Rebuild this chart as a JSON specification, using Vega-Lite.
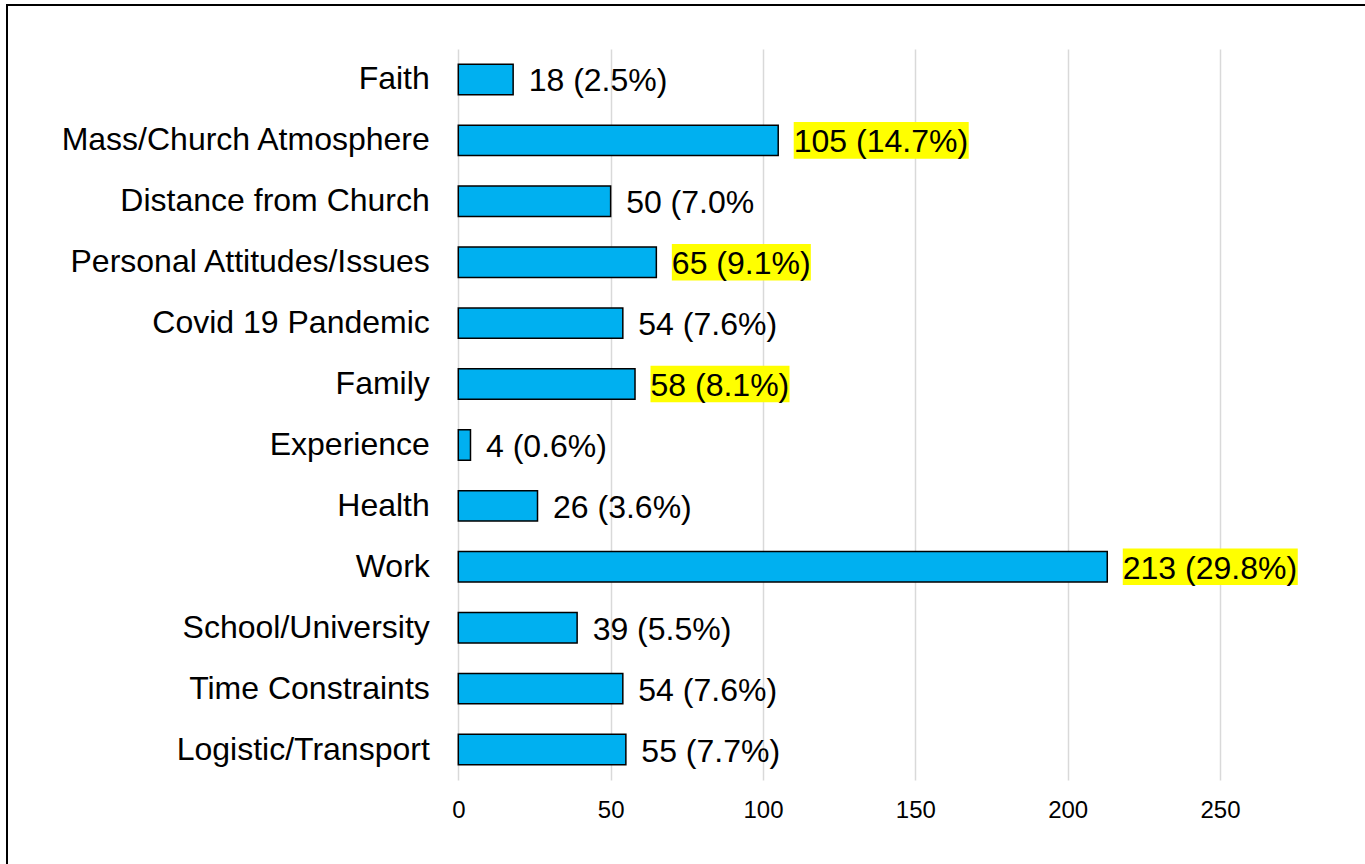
{
  "$schema": "https://vega.github.io/schema/vega-lite/v6.json",
  "width": 1358,
  "height": 859,
  "autosize": {"type": "none"},
  "padding": {"left": 7, "top": 5, "right": 0, "bottom": 0},
  "background": "white",
  "config": {
    "font": "Liberation Sans",
    "view": {"stroke": "#000000", "strokeWidth": 2, "strokeDash": [1358, 2217, 859]}
  },
  "data": {
    "values": [
      {"category": "Faith", "count": 18, "label": "18 (2.5%)", "highlight": false},
      {"category": "Mass/Church Atmosphere", "count": 105, "label": "105 (14.7%)", "highlight": true},
      {"category": "Distance from Church", "count": 50, "label": "50 (7.0%", "highlight": false},
      {"category": "Personal Attitudes/Issues", "count": 65, "label": "65 (9.1%)", "highlight": true},
      {"category": "Covid 19 Pandemic", "count": 54, "label": "54 (7.6%)", "highlight": false},
      {"category": "Family", "count": 58, "label": "58 (8.1%)", "highlight": true},
      {"category": "Experience", "count": 4, "label": "4 (0.6%)", "highlight": false},
      {"category": "Health", "count": 26, "label": "26 (3.6%)", "highlight": false},
      {"category": "Work", "count": 213, "label": "213 (29.8%)", "highlight": true},
      {"category": "School/University", "count": 39, "label": "39 (5.5%)", "highlight": false},
      {"category": "Time Constraints", "count": 54, "label": "54 (7.6%)", "highlight": false},
      {"category": "Logistic/Transport", "count": 55, "label": "55 (7.7%)", "highlight": false}
    ]
  },
  "encoding": {
    "y": {
      "field": "category",
      "type": "nominal",
      "sort": null,
      "scale": {"range": [44, 775], "paddingInner": 0.5, "paddingOuter": 0.25},
      "axis": {
        "orient": "left",
        "offset": -451.3,
        "domain": false,
        "ticks": false,
        "grid": false,
        "labelFontSize": 32,
        "labelPadding": 29,
        "labelColor": "#000000",
        "labelLimit": 800,
        "title": null
      }
    },
    "x": {
      "field": "count",
      "type": "quantitative",
      "scale": {"domain": [0, 250], "range": [451.3, 1213], "nice": false, "zero": true},
      "axis": {
        "orient": "top",
        "offset": -775,
        "values": [0, 50, 100, 150, 200, 250],
        "domain": false,
        "ticks": false,
        "labelFontSize": 24,
        "labelBaseline": "top",
        "labelPadding": -18.2,
        "labelColor": "#000000",
        "labelFlush": false,
        "grid": true,
        "gridColor": "#d9d9d9",
        "gridWidth": 1.5,
        "title": null
      }
    }
  },
  "layer": [
    {"mark": {"type": "bar", "fill": "#00B0F0", "stroke": "#000000", "strokeWidth": 1.5}},
    {
      "mark": {"type": "point", "filled": true, "size": 4, "color": "#FFFF00", "strokeWidth": 0},
      "encoding": {
        "opacity": {"condition": {"test": "datum.highlight", "value": 1}, "value": 0},
        "shape": {
          "condition": {"test": "length(datum.label) > 9", "value": "M15.5,-18.3H190.5V18.3H15.5Z"},
          "value": "M15.5,-18.3H154.5V18.3H15.5Z"
        }
      }
    },
    {
      "mark": {"type": "text", "align": "left", "baseline": "middle", "dx": 15.5, "dy": 2, "fontSize": 32, "color": "#000000"},
      "encoding": {"text": {"field": "label"}}
    }
  ]
}
